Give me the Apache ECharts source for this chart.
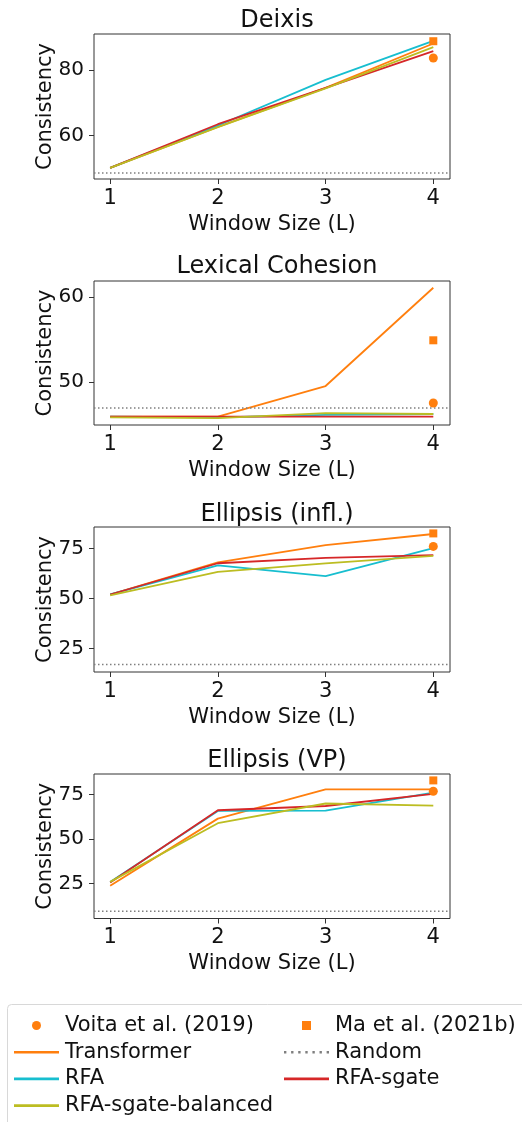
<!DOCTYPE html>
<html><head><meta charset="utf-8">
<script src="https://cdn.jsdelivr.net/npm/echarts@6/dist/echarts.min.js"></script>
<style>html,body{margin:0;padding:0;background:#fff}#c{width:522px;height:1122px}</style>
</head><body><div id="c"></div>
<script>
const windowSizes = [1, 2, 3, 4];
const taskTitles = ['Deixis', 'Lexical Cohesion', 'Ellipsis (infl.)', 'Ellipsis (VP)'];
const transformer = [[50.1, 62.6, 74.5, 88.0], [45.9, 45.9, 49.5, 61.1], [52.0, 68.0, 76.7, 82.2], [23.7, 61.5, 78.0, 78.0]];
const rfa = [[50.1, 63.0, 76.9, 88.8], [45.9, 45.8, 46.1, 46.2], [52.0, 66.5, 61.2, 75.2], [25.9, 65.8, 66.0, 76.1]];
const rfaSgate = [[50.1, 63.4, 74.5, 85.7], [45.9, 45.9, 45.9, 45.9], [52.0, 67.6, 70.3, 71.7], [25.5, 66.2, 68.6, 75.4]];
const rfaSgateBalanced = [[50.1, 62.5, 74.3, 86.9], [45.8, 45.7, 46.3, 46.2], [51.5, 63.3, 67.5, 71.3], [25.9, 58.9, 70.0, 68.8]];
const voita = [83.6, 47.5, 76.0, 76.9];
const ma = [88.7, 54.9, 82.5, 83.0];
const randomBaseline = [48.5, 46.9, 17.0, 9.4];
const yTicks = [[60, 80], [50, 60], [25, 50, 75], [25, 50, 75]];
const xTicks = [1, 2, 3, 4];

const yLimits = [[46.7, 90.9], [44.9, 61.9], [13.3, 85.7], [5.3, 86.6]];
const xLimits = [0.85, 4.155];
const gridTops = [34, 281, 527, 774];
const gridHeights = [145, 144, 145, 144.5];
const titleCenters = [19, 265, 513, 759];

const C = {orange: '#ff7f0e', cyan: '#17becf', red: '#d62728', olive: '#bcbd22', gray: '#7f7f7f'};
const FONT = 'DejaVu Sans';

const grids = [], xAxes = [], yAxes = [], titles = [], series = [];
const pts = arr => windowSizes.map((x, i) => [x, arr[i]]);

for (let k = 0; k < 4; k++) {
  grids.push({left: 94, width: 356, top: gridTops[k], height: gridHeights[k],
    show: true, borderColor: '#333', borderWidth: 1, backgroundColor: 'transparent'});
  titles.push({text: taskTitles[k], left: 272, textAlign: 'center', top: titleCenters[k] - 15,
    textStyle: {fontFamily: FONT, fontSize: 24, fontWeight: 'normal', color: '#111'}});
  xAxes.push({type: 'value', gridIndex: k, min: xLimits[0], max: xLimits[1],
    name: 'Window Size (L)', nameLocation: 'middle', nameGap: 35, nameMoveOverlap: false,
    nameTextStyle: {fontFamily: FONT, fontSize: 21, color: '#111'},
    axisLine: {show: false}, splitLine: {show: false},
    axisTick: {show: true, length: 5, customValues: xTicks, lineStyle: {color: '#333'}},
    axisLabel: {customValues: xTicks, margin: 9, fontFamily: FONT, fontSize: 21, color: '#111'}});
  yAxes.push({type: 'value', gridIndex: k, min: yLimits[k][0], max: yLimits[k][1],
    name: 'Consistency', nameLocation: 'middle', nameGap: 38, nameMoveOverlap: false,
    nameTextStyle: {fontFamily: FONT, fontSize: 21, color: '#111'},
    axisLine: {show: false}, splitLine: {show: false},
    axisTick: {show: true, length: 5, customValues: yTicks[k], lineStyle: {color: '#333'}},
    axisLabel: {customValues: yTicks[k], margin: 10, fontFamily: FONT, fontSize: 20, color: '#111'}});

  const base = {xAxisIndex: k, yAxisIndex: k, silent: true, animation: false};
  series.push(Object.assign({}, base, {name: 'Voita et al. (2019)', type: 'scatter', symbol: 'circle', symbolSize: 9,
    itemStyle: {color: C.orange, opacity: 1}, z: 10, data: [[4, voita[k]]]}));
  series.push(Object.assign({}, base, {name: 'Ma et al. (2021b)', type: 'scatter', symbol: 'rect', symbolSize: 8,
    itemStyle: {color: C.orange, opacity: 1}, z: 10, data: [[4, ma[k]]]}));
  series.push(Object.assign({}, base, {name: 'Transformer', type: 'line', symbol: 'none',
    lineStyle: {color: C.orange, width: 1.8}, itemStyle: {color: C.orange}, data: pts(transformer[k])}));
  series.push(Object.assign({}, base, {name: 'Random', type: 'line', symbol: 'none',
    lineStyle: {color: C.gray, width: 1.5, type: [1.5, 2.5]}, itemStyle: {color: C.gray},
    data: [[xLimits[0], randomBaseline[k]], [xLimits[1], randomBaseline[k]]]}));
  series.push(Object.assign({}, base, {name: 'RFA', type: 'line', symbol: 'none',
    lineStyle: {color: C.cyan, width: 1.8}, itemStyle: {color: C.cyan}, data: pts(rfa[k])}));
  series.push(Object.assign({}, base, {name: 'RFA-sgate', type: 'line', symbol: 'none',
    lineStyle: {color: C.red, width: 1.8}, itemStyle: {color: C.red}, data: pts(rfaSgate[k])}));
  series.push(Object.assign({}, base, {name: 'RFA-sgate-balanced', type: 'line', symbol: 'none',
    lineStyle: {color: C.olive, width: 1.8}, itemStyle: {color: C.olive}, data: pts(rfaSgateBalanced[k])}));
}

const lineIcon = 'path://M0,0L45,0L45,2.6L0,2.6Z';
const squareIcon = 'path://M0,0L8,0L8,8L0,8Z';
const dotIcon = 'path://M0,0h2v2h-2zM6,0h2v2h-2zM12,0h2v2h-2zM18,0h2v2h-2zM24,0h2v2h-2zM30,0h2v2h-2zM36,0h2v2h-2z';

const legendCommon = {orient: 'vertical', itemWidth: 45, itemHeight: 9, itemGap: 2.7, padding: 0,
  height: 120,
  textStyle: {fontFamily: FONT, fontSize: 21, color: '#111', lineHeight: 24, padding: [0, 0, 0, 1]},
  selectedMode: false};

const option = {
  backgroundColor: '#fff',
  animation: false,
  title: titles,
  grid: grids,
  xAxis: xAxes,
  yAxis: yAxes,
  series: series,
  legend: [
    Object.assign({}, legendCommon, {left: 14, top: 1013.5,
      data: [{name: 'Voita et al. (2019)', icon: 'circle'},
             {name: 'Transformer', icon: lineIcon},
             {name: 'RFA', icon: lineIcon},
             {name: 'RFA-sgate-balanced', icon: lineIcon}]}),
    Object.assign({}, legendCommon, {left: 284, top: 1013.5,
      data: [{name: 'Ma et al. (2021b)', icon: squareIcon},
             {name: 'Random', icon: dotIcon},
             {name: 'RFA-sgate', icon: lineIcon}]})
  ],
  graphic: [{type: 'rect', left: 7, top: 1004, z: -10,
    shape: {width: 540, height: 140, r: 4}, style: {fill: '#fff', stroke: '#d8d8d8', lineWidth: 1}}]
};

const chart = echarts.init(document.getElementById('c'), null, {renderer: 'canvas'});
chart.setOption(option);
</script></body></html>
